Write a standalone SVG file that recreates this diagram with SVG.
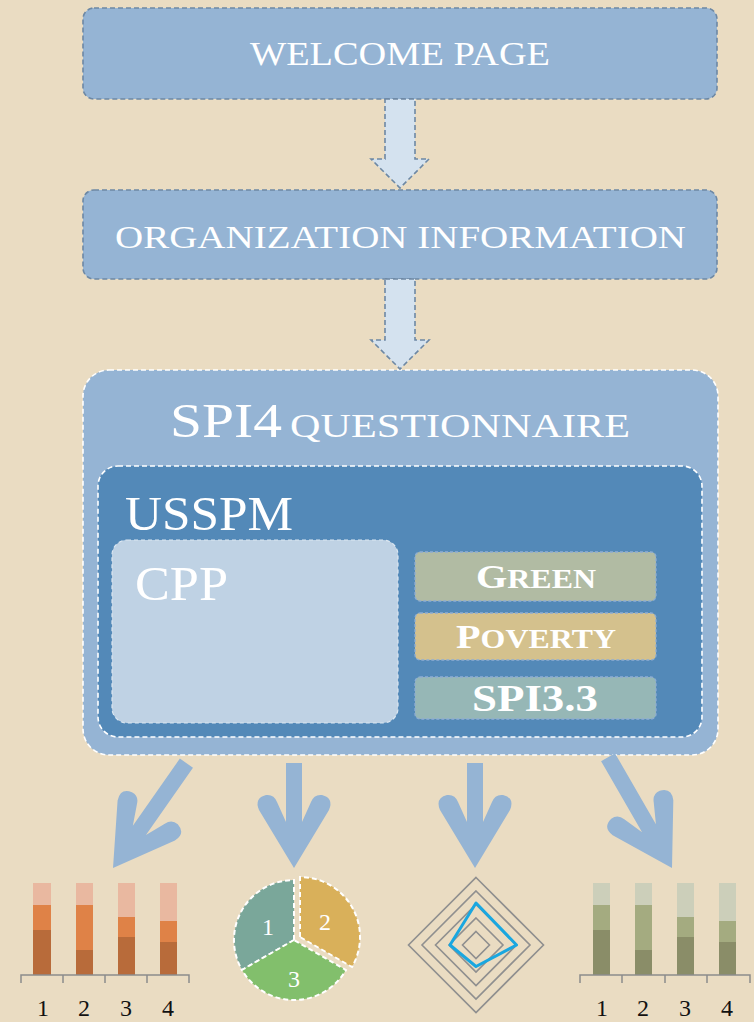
<svg xmlns="http://www.w3.org/2000/svg" width="754" height="1022" viewBox="0 0 754 1022">
  <defs>
    <style>
      .serif { font-family: "Liberation Serif", "DejaVu Serif", serif; fill: #ffffff; }
      .flowbox { fill: #95B4D4; stroke: #6D88A4; stroke-width: 1.6; stroke-dasharray: 5 3; }
      .flowarrow { fill: #D4E2EF; stroke: #6D88A4; stroke-width: 1.6; stroke-dasharray: 5 3; }
      .wdash { stroke: #ffffff; stroke-width: 1.6; stroke-dasharray: 5 3; }
      .tag { stroke: #8EADD3; stroke-width: 1.3; stroke-dasharray: 3 2; }
      .tagtext { font-family: "Liberation Serif", "DejaVu Serif", serif; font-weight: bold; fill: #ffffff; }
      .outarrow { fill: #95B4D4; }
      .axis { fill: none; stroke: #8C8C8C; stroke-width: 1.5; }
      .num { font-family: "Liberation Serif", "DejaVu Serif", serif; font-size: 24px; fill: #111111; text-anchor: middle; }
      .ring { fill: none; stroke: #8F8F8F; stroke-width: 1.6; }
      .slice { stroke: #ffffff; stroke-width: 2; stroke-dasharray: 5 3; }
      .pienum { font-family: "Liberation Serif", "DejaVu Serif", serif; font-size: 24px; fill: #ffffff; text-anchor: middle; }
    </style>
    <!-- block arrow pointing down, tip at origin -->
    <path id="fatArrow" d="M0 0 L-35 -58 Q-40 -70 -28 -73 Q-20 -74 -17 -66 L-8 -46 L-8 -105 L8 -105 L8 -46 L17 -66 Q20 -74 28 -73 Q40 -70 35 -58 Z"/>
    <path id="fatArrowLong" d="M0 0 L-35 -58 Q-40 -70 -28 -73 Q-20 -74 -17 -66 L-8 -46 L-8 -128 L8 -128 L8 -46 L17 -66 Q20 -74 28 -73 Q40 -70 35 -58 Z"/>
  </defs>

  <rect width="754" height="1022" fill="#EADCC2"/>

  <g id="welcome">
    <rect class="flowbox" x="83" y="8" width="634" height="91" rx="11"/>
    <text class="serif" x="250" y="65" font-size="33" textLength="300" lengthAdjust="spacingAndGlyphs">WELCOME PAGE</text>
  </g>

  <g id="organization">
    <rect class="flowbox" x="83" y="190" width="634" height="89" rx="11"/>
    <text class="serif" x="115" y="248" font-size="32" textLength="571" lengthAdjust="spacingAndGlyphs">ORGANIZATION INFORMATION</text>
  </g>

  <g id="questionnaire">
    <rect class="wdash" x="83" y="370" width="635" height="385" rx="26" fill="#95B4D4"/>
    <text class="serif" x="170" y="437" font-size="48" textLength="112" lengthAdjust="spacingAndGlyphs">SPI4</text>
    <text class="serif" x="290" y="437" font-size="34" textLength="340" lengthAdjust="spacingAndGlyphs">QUESTIONNAIRE</text>
  </g>

  <g id="usspm">
    <rect class="wdash" x="98" y="466" width="604" height="271" rx="20" fill="#5389B8"/>
    <text class="serif" x="125" y="530" font-size="49" textLength="168" lengthAdjust="spacingAndGlyphs">USSPM</text>
  </g>

  <g id="cpp">
    <rect x="112" y="540" width="286" height="183" rx="15" fill="#BFD2E4" stroke="#DCE7F1" stroke-width="1.2" stroke-dasharray="4 3"/>
    <text class="serif" x="135" y="600" font-size="49" textLength="93" lengthAdjust="spacingAndGlyphs">CPP</text>
  </g>

  <g id="green">
    <rect class="tag" x="415" y="552" width="241" height="49" rx="5" fill="#B1BBA3"/>
    <text class="tagtext" x="476" y="588" font-size="34" textLength="120" lengthAdjust="spacingAndGlyphs">G<tspan font-size="27">REEN</tspan></text>
  </g>

  <g id="poverty">
    <rect class="tag" x="415" y="613" width="241" height="47" rx="5" fill="#D4C18D"/>
    <text class="tagtext" x="456" y="648" font-size="34" textLength="160" lengthAdjust="spacingAndGlyphs">P<tspan font-size="27">OVERTY</tspan></text>
  </g>

  <g id="spi33">
    <rect class="tag" x="415" y="677" width="241" height="42" rx="5" fill="#96B7B6"/>
    <text class="tagtext" x="472" y="711" font-size="38" textLength="126" lengthAdjust="spacingAndGlyphs">SPI3.3</text>
  </g>

  <g id="connectors">
    <!-- flow arrows between the top boxes -->
    <path class="flowarrow" d="M385 99 L415 99 L415 159 L429 159 L400 188 L371 159 L385 159 Z"/>
    <path class="flowarrow" d="M385 279 L415 279 L415 340 L429 340 L400 369 L371 340 L385 340 Z"/>
    <!-- outputs fanning out to the charts -->
    <use href="#fatArrowLong" class="outarrow" transform="translate(113 868) rotate(35)"/>
    <use href="#fatArrow" class="outarrow" transform="translate(294 868)"/>
    <use href="#fatArrow" class="outarrow" transform="translate(475 868)"/>
    <use href="#fatArrowLong" class="outarrow" transform="translate(672 868) rotate(-30)"/>
  </g>

  <g id="chart-orange">
    <rect x="33" y="883" width="18" height="22" fill="#E9B8A0"/>
    <rect x="33" y="905" width="18" height="25" fill="#DF8247"/>
    <rect x="33" y="930" width="18" height="45" fill="#B86B3A"/>
    <rect x="76" y="883" width="17" height="22" fill="#E9B8A0"/>
    <rect x="76" y="905" width="17" height="45" fill="#DF8247"/>
    <rect x="76" y="950" width="17" height="25" fill="#B86B3A"/>
    <rect x="118" y="883" width="17" height="34" fill="#E9B8A0"/>
    <rect x="118" y="917" width="17" height="20" fill="#DF8247"/>
    <rect x="118" y="937" width="17" height="38" fill="#B86B3A"/>
    <rect x="160" y="883" width="17" height="38" fill="#E9B8A0"/>
    <rect x="160" y="921" width="17" height="21" fill="#DF8247"/>
    <rect x="160" y="942" width="17" height="33" fill="#B86B3A"/>
    <path class="axis" d="M21 983 V975 H189 V983 M63 975 V983 M105 975 V983 M147 975 V983"/>
    <text class="num" x="43" y="1016">1</text>
    <text class="num" x="84" y="1016">2</text>
    <text class="num" x="126" y="1016">3</text>
    <text class="num" x="168" y="1016">4</text>
  </g>

  <g id="chart-pie">
    <path class="slice" d="M294 940 L294 880 A60 60 0 0 0 242 970 Z" fill="#7AA79A"/>
    <path class="slice" d="M294 940 L242 970 A60 60 0 0 0 346 970 Z" fill="#82BF6C"/>
    <path class="slice" d="M300 937 L300 877 A60 60 0 0 1 352 967 Z" fill="#D9B05A"/>
    <text class="pienum" x="268" y="935">1</text>
    <text class="pienum" x="325" y="930">2</text>
    <text class="pienum" x="294" y="987">3</text>
  </g>

  <g id="chart-radar">
    <path class="ring" d="M476 877.5 L543.5 945 L476 1012.5 L408.5 945 Z"/>
    <path class="ring" d="M476 891 L530 945 L476 999 L422 945 Z"/>
    <path class="ring" d="M476 904.5 L516.5 945 L476 985.5 L435.5 945 Z"/>
    <path class="ring" d="M476 918 L503 945 L476 972 L449 945 Z"/>
    <path class="ring" d="M476 931.5 L489.5 945 L476 958.5 L462.5 945 Z"/>
    <path d="M476 903 L516.5 945 L476 966.5 L450 945 Z" fill="none" stroke="#1AA7E0" stroke-width="3" stroke-linejoin="round"/>
  </g>

  <g id="chart-olive">
    <rect x="593" y="883" width="17" height="22" fill="#CCCFBA"/>
    <rect x="593" y="905" width="17" height="25" fill="#A4AB80"/>
    <rect x="593" y="930" width="17" height="45" fill="#8A8D68"/>
    <rect x="635" y="883" width="17" height="22" fill="#CCCFBA"/>
    <rect x="635" y="905" width="17" height="45" fill="#A4AB80"/>
    <rect x="635" y="950" width="17" height="25" fill="#8A8D68"/>
    <rect x="677" y="883" width="17" height="34" fill="#CCCFBA"/>
    <rect x="677" y="917" width="17" height="20" fill="#A4AB80"/>
    <rect x="677" y="937" width="17" height="38" fill="#8A8D68"/>
    <rect x="719" y="883" width="17" height="38" fill="#CCCFBA"/>
    <rect x="719" y="921" width="17" height="21" fill="#A4AB80"/>
    <rect x="719" y="942" width="17" height="33" fill="#8A8D68"/>
    <path class="axis" d="M580 983 V975 H750 V983 M622 975 V983 M665 975 V983 M707 975 V983"/>
    <text class="num" x="602" y="1016">1</text>
    <text class="num" x="643" y="1016">2</text>
    <text class="num" x="685" y="1016">3</text>
    <text class="num" x="727" y="1016">4</text>
  </g>
</svg>
